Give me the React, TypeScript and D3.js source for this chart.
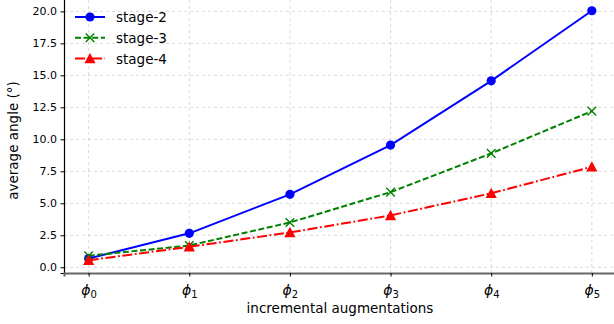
import React, { useEffect, useRef } from "react";
import * as d3 from "d3";

// x positions: augmentation steps phi_0..phi_5
const steps = [0, 1, 2, 3, 4, 5];
const stage2 = [0.68, 2.65, 5.7, 9.55, 14.57, 20.05];
const stage3 = [0.9, 1.7, 3.5, 5.87, 8.9, 12.2];
const stage4 = [0.55, 1.6, 2.72, 4.05, 5.78, 7.85];
const yTicks = [0, 2.5, 5, 7.5, 10, 12.5, 15, 17.5, 20];

const seriesList = [
  { name: "stage-2", values: stage2, color: "#0000ff", dash: "none", marker: "circle" },
  { name: "stage-3", values: stage3, color: "#008000", dash: "6,2.6", marker: "x" },
  { name: "stage-4", values: stage4, color: "#ff0000", dash: "10,2.6,1.8,2.6", marker: "triangle" },
];

const width = 614;
const height = 324;
const margin = { left: 64, right: 0, top: 0, bottom: 51 };

export default function App() {
  const svgRef = useRef<SVGSVGElement | null>(null);

  useEffect(() => {
    const svg = d3.select(svgRef.current);
    svg.selectAll("*").remove();

    const plotBottom = height - margin.bottom;
    const x = d3.scaleLinear().domain([-0.245, 5.25]).range([margin.left, 617]);
    const y = d3.scaleLinear().domain([-0.45, 21.03]).range([plotBottom, -1.8]);

    const font = "DejaVu Sans, sans-serif";

    // grid
    const grid = svg.append("g");
    grid.selectAll("line.v").data(steps).enter().append("line")
      .attr("x1", (d) => x(d)).attr("x2", (d) => x(d))
      .attr("y1", 0).attr("y2", plotBottom)
      .attr("stroke", "#b0b0b0").attr("stroke-opacity", 0.6)
      .attr("stroke-dasharray", "3,3").attr("stroke-width", 0.8);
    grid.selectAll("line.h").data(yTicks).enter().append("line")
      .attr("x1", margin.left).attr("x2", width)
      .attr("y1", (d) => y(d)).attr("y2", (d) => y(d))
      .attr("stroke", "#b0b0b0").attr("stroke-opacity", 0.6)
      .attr("stroke-dasharray", "3,3").attr("stroke-width", 0.8);

    // axes
    const yAxis = d3.axisLeft(y).tickValues(yTicks).tickFormat(d3.format(".1f")).tickSizeOuter(0).tickSize(3.5).tickPadding(3.5);
    const gy = svg.append("g").attr("transform", `translate(${margin.left},0)`).call(yAxis);
    gy.select(".domain").attr("stroke", "#000").attr("stroke-width", 1.2);
    gy.selectAll("text").attr("font-family", font).attr("font-size", 11).attr("fill", "#000");

    const xAxis = d3.axisBottom(x).tickValues(steps).tickFormat(() => "").tickSizeOuter(0).tickSize(3.5);
    const gx = svg.append("g").attr("transform", `translate(0,${plotBottom})`).call(xAxis);
    gx.select(".domain").attr("stroke", "#666").attr("stroke-width", 2);
    gx.selectAll(".tick").each(function (d) {
      const t = d3.select(this).append("text")
        .attr("y", 22).attr("text-anchor", "middle").attr("fill", "#000")
        .attr("font-family", font).attr("font-size", 14);
      t.append("tspan").attr("font-style", "italic").text("ϕ");
      t.append("tspan").attr("font-size", 10).attr("dy", 3).text(String(d));
    });

    // axis labels
    svg.append("text").attr("x", 340).attr("y", 313).attr("text-anchor", "middle")
      .attr("font-family", font).attr("font-size", 13.5).text("incremental augmentations");
    svg.append("text").attr("transform", `translate(18,${(plotBottom) / 2 + 4}) rotate(-90)`)
      .attr("text-anchor", "middle").attr("font-family", font).attr("font-size", 13.5)
      .text("average angle (°)");

    const drawMarker = (g: any, kind: string, cx: number, cy: number, color: string) => {
      if (kind === "circle") {
        g.append("circle").attr("cx", cx).attr("cy", cy).attr("r", 4.6).attr("fill", color);
      } else if (kind === "x") {
        const s = 4.3;
        g.append("path").attr("d", `M${cx - s},${cy - s}L${cx + s},${cy + s}M${cx - s},${cy + s}L${cx + s},${cy - s}`)
          .attr("stroke", color).attr("stroke-width", 1.4).attr("fill", "none");
      } else {
        const s = 5.6;
        g.append("path").attr("d", `M${cx},${cy - s}L${cx + s},${cy + s * 0.85}L${cx - s},${cy + s * 0.85}Z`)
          .attr("fill", color);
      }
    };

    const line = d3.line<number>().x((_, i) => x(steps[i])).y((d) => y(d));
    seriesList.forEach((s) => {
      const g = svg.append("g");
      g.append("path").datum(s.values).attr("d", line).attr("fill", "none")
        .attr("stroke", s.color).attr("stroke-width", 2)
        .attr("stroke-dasharray", s.dash);
      s.values.forEach((v, i) => drawMarker(g, s.marker, x(steps[i]), y(v), s.color));
    });

    // legend
    const lg = svg.append("g");
    seriesList.forEach((s, i) => {
      const ly = 17 + i * 20.8;
      lg.append("line").attr("x1", 75).attr("x2", 105).attr("y1", ly).attr("y2", ly)
        .attr("stroke", s.color).attr("stroke-width", 2).attr("stroke-dasharray", s.dash);
      drawMarker(lg, s.marker, 90, ly, s.color);
      lg.append("text").attr("x", 116).attr("y", ly + 5).attr("font-family", font)
        .attr("font-size", 13.5).text(s.name);
    });
  }, []);

  return (
    <svg ref={svgRef} width={width} height={height}
      style={{ position: "absolute", left: 0, top: 0, background: "#fff" }} />
  );
}
